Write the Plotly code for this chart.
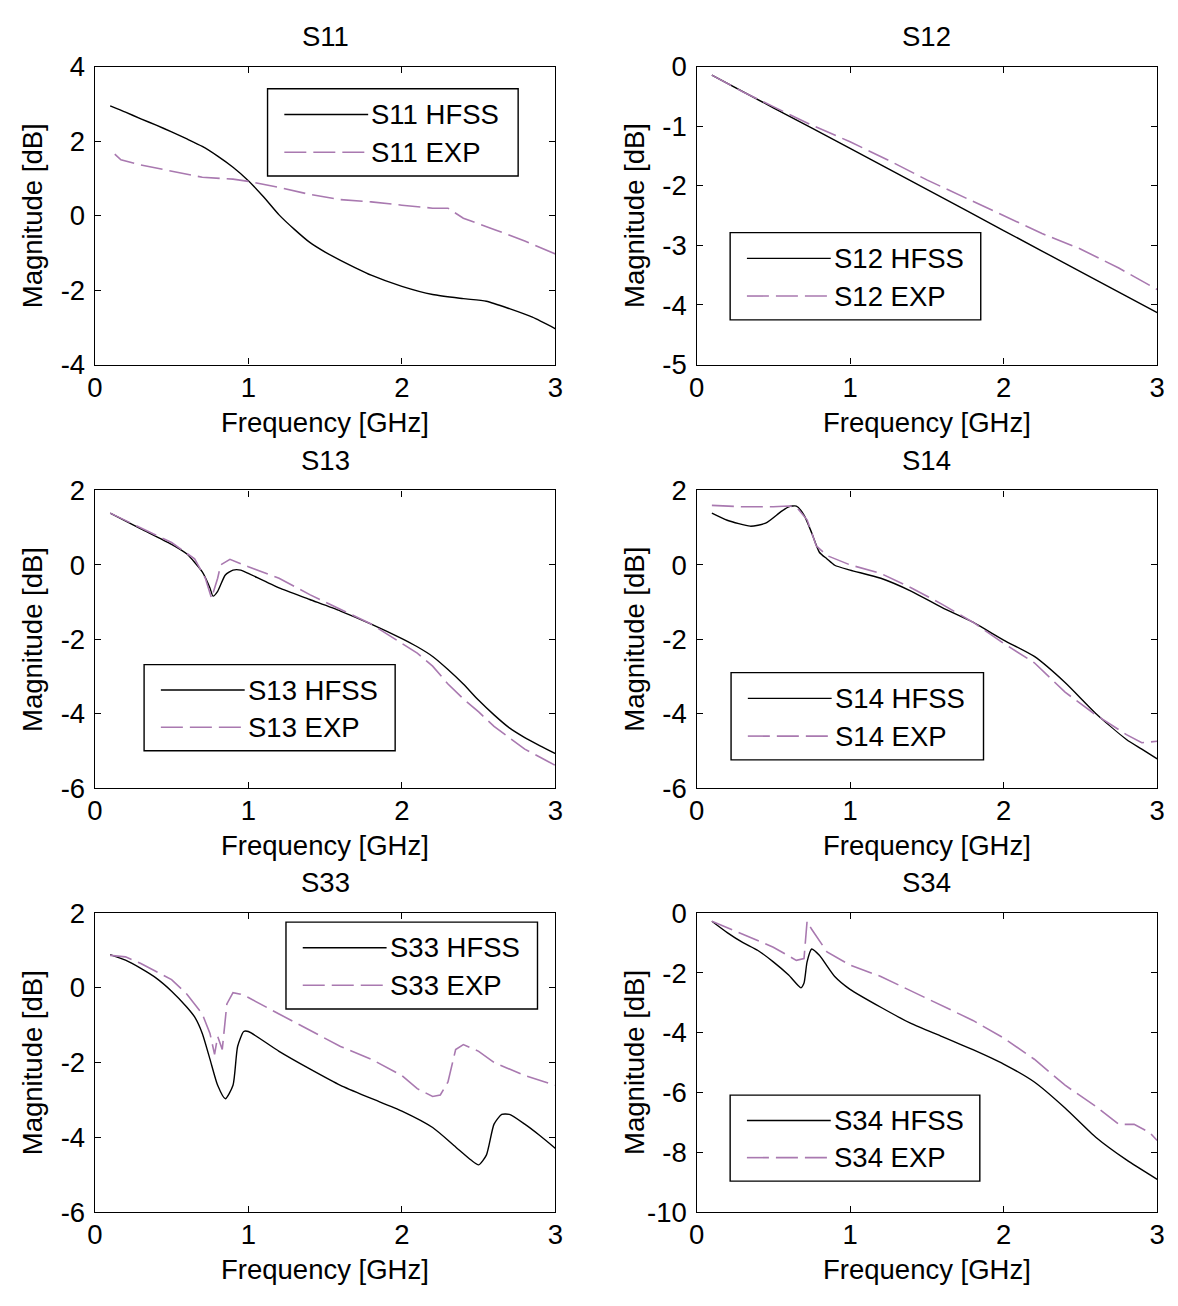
import plotly.graph_objects as go

# ---------------------------------------------------------------------------
# Measured / simulated S-parameter magnitudes (dB) versus frequency (GHz)
# ---------------------------------------------------------------------------
s11_hfss_f = [0.1, 0.2, 0.3, 0.4, 0.5, 0.6, 0.7, 0.8, 0.9, 1.0, 1.1, 1.2, 1.3,
              1.4, 1.5, 1.6, 1.8, 2.0, 2.2, 2.4, 2.55, 2.7, 2.85, 3.0]
s11_hfss_db = [2.95, 2.78, 2.6, 2.43, 2.25, 2.06, 1.86, 1.6, 1.3, 0.94, 0.5, 0.02,
               -0.37, -0.72, -0.98, -1.2, -1.6, -1.9, -2.12, -2.23, -2.3, -2.5,
               -2.73, -3.04]
s11_exp_f = [0.13, 0.17, 0.3, 0.5, 0.7, 0.9, 1.0, 1.2, 1.4, 1.6, 1.8, 2.0, 2.2,
             2.3, 2.4, 2.6, 2.8, 3.0]
s11_exp_db = [1.65, 1.5, 1.36, 1.2, 1.03, 0.98, 0.92, 0.76, 0.57, 0.43, 0.37,
              0.28, 0.2, 0.2, -0.07, -0.37, -0.68, -1.03]

s12_hfss_f = [0.1, 0.5, 1.0, 1.5, 2.0, 2.5, 3.0]
s12_hfss_db = [-0.14, -0.69, -1.37, -2.06, -2.75, -3.44, -4.13]
s12_exp_f = [0.1, 0.3, 0.5, 0.75, 1.0, 1.25, 1.5, 1.75, 2.0, 2.25, 2.5, 2.75, 3.0]
s12_exp_db = [-0.14, -0.42, -0.67, -0.98, -1.26, -1.57, -1.9, -2.2, -2.49, -2.8,
              -3.06, -3.38, -3.74]

s13_hfss_f = [0.1, 0.3, 0.5, 0.6, 0.7, 0.75, 0.77, 0.8, 0.85, 0.9, 0.95, 1.0, 1.2,
              1.4, 1.6, 1.8, 2.0, 2.1, 2.2, 2.3, 2.4, 2.5, 2.6, 2.7, 2.8, 2.9, 3.0]
s13_hfss_db = [1.39, 0.97, 0.55, 0.29, -0.19, -0.62, -0.84, -0.71, -0.27, -0.14,
               -0.14, -0.23, -0.62, -0.93, -1.24, -1.59, -1.98, -2.2, -2.46, -2.81,
               -3.2, -3.64, -4.03, -4.38, -4.64, -4.86, -5.07]
s13_exp_f = [0.1, 0.5, 0.65, 0.72, 0.76, 0.8, 0.82, 0.88, 1.0, 1.2, 1.4, 1.6, 1.8,
             2.0, 2.1, 2.2, 2.3, 2.4, 2.5, 2.6, 2.7, 2.8, 2.9, 3.0]
s13_exp_db = [1.39, 0.6, 0.16, -0.36, -0.89, -0.36, 0.0, 0.15, -0.05, -0.36, -0.8,
              -1.19, -1.59, -2.11, -2.37, -2.72, -3.2, -3.6, -3.95, -4.34, -4.64,
              -4.95, -5.17, -5.39]

s14_hfss_f = [0.1, 0.2, 0.35, 0.45, 0.55, 0.6, 0.65, 0.7, 0.75, 0.8, 0.85, 0.9,
              1.0, 1.2, 1.4, 1.6, 1.8, 2.0, 2.2, 2.4, 2.6, 2.8, 2.9, 3.0]
s14_hfss_db = [1.39, 1.2, 1.04, 1.12, 1.43, 1.56, 1.58, 1.34, 0.86, 0.34, 0.16,
               -0.01, -0.14, -0.36, -0.71, -1.15, -1.54, -2.02, -2.46, -3.16,
               -3.99, -4.69, -4.95, -5.21]
s14_exp_f = [0.1, 0.3, 0.5, 0.6, 0.65, 0.72, 0.78, 0.85, 1.0, 1.2, 1.4, 1.6, 1.8,
             2.0, 2.2, 2.4, 2.6, 2.8, 2.9, 3.0]
s14_exp_db = [1.6, 1.56, 1.56, 1.58, 1.56, 1.21, 0.51, 0.25, 0.0, -0.23, -0.62,
              -1.06, -1.54, -2.11, -2.63, -3.42, -4.03, -4.56, -4.78, -4.74]

s33_hfss_f = [0.1, 0.2, 0.3, 0.4, 0.5, 0.6, 0.65, 0.7, 0.75, 0.8, 0.85, 0.9, 0.93,
              0.97, 1.0, 1.2, 1.4, 1.6, 1.8, 2.0, 2.2, 2.35, 2.45, 2.5, 2.55, 2.6,
              2.65, 2.7, 2.8, 2.9, 3.0]
s33_hfss_db = [0.89, 0.74, 0.52, 0.26, -0.09, -0.52, -0.78, -1.22, -1.91, -2.61,
               -2.97, -2.61, -1.57, -1.17, -1.17, -1.7, -2.17, -2.61, -2.96, -3.3,
               -3.74, -4.26, -4.61, -4.74, -4.48, -3.65, -3.39, -3.39, -3.65, -3.96,
               -4.3]
s33_exp_f = [0.1, 0.2, 0.3, 0.4, 0.5, 0.6, 0.7, 0.75, 0.78, 0.8, 0.83, 0.86, 0.9,
             0.95, 1.0, 1.2, 1.4, 1.6, 1.8, 2.0, 2.1, 2.2, 2.25, 2.3, 2.35, 2.4,
             2.5, 2.6, 2.8, 3.0]
s33_exp_db = [0.87, 0.83, 0.65, 0.43, 0.22, -0.17, -0.7, -1.22, -1.78, -1.3, -1.65,
              -0.43, -0.13, -0.17, -0.26, -0.7, -1.13, -1.57, -1.91, -2.35, -2.7,
              -2.91, -2.87, -2.52, -1.65, -1.52, -1.7, -2.0, -2.35, -2.61]

s34_hfss_f = [0.1, 0.2, 0.3, 0.4, 0.5, 0.6, 0.68, 0.7, 0.72, 0.75, 0.8, 0.9, 1.0,
              1.2, 1.4, 1.6, 1.8, 2.0, 2.2, 2.4, 2.6, 2.8, 3.0]
s34_hfss_db = [-0.27, -0.65, -0.98, -1.25, -1.63, -2.07, -2.5, -2.34, -1.63, -1.2,
               -1.41, -2.12, -2.55, -3.15, -3.7, -4.13, -4.57, -5.05, -5.65, -6.52,
               -7.5, -8.26, -8.91]
s34_exp_f = [0.1, 0.3, 0.5, 0.65, 0.7, 0.72, 0.75, 0.85, 1.0, 1.2, 1.4, 1.6, 1.8,
             2.0, 2.2, 2.4, 2.6, 2.75, 2.85, 2.95, 3.0]
s34_exp_db = [-0.27, -0.7, -1.14, -1.58, -1.52, -0.27, -0.54, -1.3, -1.74, -2.12,
              -2.61, -3.1, -3.59, -4.18, -4.89, -5.76, -6.47, -7.07, -7.07, -7.34,
              -7.61]

panel_names = ["S11", "S12", "S13", "S14", "S33", "S34"]
y_ranges = [(-4, 4), (-5, 0), (-6, 2), (-6, 2), (-6, 2), (-10, 0)]
y_tick_values = [
    [-4, -2, 0, 2, 4],
    [-5, -4, -3, -2, -1, 0],
    [-6, -4, -2, 0, 2],
    [-6, -4, -2, 0, 2],
    [-6, -4, -2, 0, 2],
    [-10, -8, -6, -4, -2, 0],
]
x_range = (0, 3)
x_tick_values = [0, 1, 2, 3]
x_title = "Frequency [GHz]"
y_title = "Magnitude [dB]"

series = [
    (s11_hfss_f, s11_hfss_db, s11_exp_f, s11_exp_db),
    (s12_hfss_f, s12_hfss_db, s12_exp_f, s12_exp_db),
    (s13_hfss_f, s13_hfss_db, s13_exp_f, s13_exp_db),
    (s14_hfss_f, s14_hfss_db, s14_exp_f, s14_exp_db),
    (s33_hfss_f, s33_hfss_db, s33_exp_f, s33_exp_db),
    (s34_hfss_f, s34_hfss_db, s34_exp_f, s34_exp_db),
]

# ---------------------------------------------------------------------------
# Layout geometry (pixels)
# ---------------------------------------------------------------------------
W, H = 1178, 1306
col_px = [(88, 555), (698, 1165)]
row_px = [(53, 358), (487, 792), (920, 1226)]

# legend box per panel: (left, right, top, bottom) as fractions of the axes,
# measured from the left / top edge
legend_boxes = [
    (0.375, 0.919, 0.074, 0.367),
    (0.073, 0.617, 0.557, 0.850),
    (0.107, 0.652, 0.585, 0.874),
    (0.075, 0.623, 0.612, 0.905),
    (0.415, 0.961, 0.030, 0.321),
    (0.073, 0.615, 0.609, 0.897),
]

FONT = "Liberation Sans, Arial, sans-serif"
FS = 27.5
BLACK = "#000000"
EXP_COLOR = "#a979b0"
EXP_DASH = "22px,7px"


def tick_text(values):
    # plain ASCII hyphen for negative numbers
    return [str(v) for v in values]


fig = go.Figure()
annotations = []
shapes = []

for i, name in enumerate(panel_names):
    r, c = divmod(i, 2)
    idx = "" if i == 0 else str(i + 1)
    xa, ya = "x" + idx, "y" + idx
    x0p, x1p = col_px[c]
    y0p, y1p = row_px[r]
    ax_w = x1p - x0p

    hf, hd, ef, ed = series[i]
    fig.add_trace(go.Scatter(x=hf, y=hd, mode="lines", name=f"{name} HFSS",
                             line=dict(color=BLACK, width=1.4, shape="spline",
                                       smoothing=0.6),
                             xaxis=xa, yaxis=ya, showlegend=False))
    fig.add_trace(go.Scatter(x=ef, y=ed, mode="lines", name=f"{name} EXP",
                             line=dict(color=EXP_COLOR, width=1.6, dash=EXP_DASH),
                             xaxis=xa, yaxis=ya, showlegend=False))

    common = dict(showline=True, linecolor=BLACK, linewidth=1.4, mirror="ticks",
                  ticks="inside", ticklen=6, tickwidth=1.2, tickcolor=BLACK,
                  showgrid=False, zeroline=False, fixedrange=True,
                  tickmode="array",
                  tickfont=dict(family=FONT, size=FS, color=BLACK))
    fig.update_layout({
        "xaxis" + idx: dict(domain=[x0p / W, x1p / W], range=list(x_range),
                            tickvals=x_tick_values,
                            ticktext=tick_text(x_tick_values),
                            anchor=ya, ticklabelstandoff=-2, **common),
        "yaxis" + idx: dict(domain=[1 - y1p / H, 1 - y0p / H],
                            range=list(y_ranges[i]),
                            tickvals=y_tick_values[i],
                            ticktext=tick_text(y_tick_values[i]),
                            anchor=xa, ticklabelstandoff=3, **common),
    })

    cx = (x0p + x1p) / 2
    cy = (y0p + y1p) / 2
    txt = dict(family=FONT, size=FS, color=BLACK)
    # panel title
    annotations.append(dict(text=name, x=cx / W, y=1 - (y0p - 31) / H,
                            xref="paper", yref="paper", showarrow=False,
                            xanchor="center", yanchor="middle", font=txt))
    # axis titles
    annotations.append(dict(text=x_title, x=cx / W, y=1 - (y1p + 59) / H,
                            xref="paper", yref="paper", showarrow=False,
                            xanchor="center", yanchor="middle", font=txt))
    annotations.append(dict(text=y_title, x=(x0p - 63) / W, y=1 - cy / H,
                            xref="paper", yref="paper", showarrow=False,
                            textangle=-90, xanchor="center", yanchor="middle",
                            font=txt))

    # legend box with line samples and labels
    bl, br, bt, bb = legend_boxes[i]
    xd, yd = xa + " domain", ya + " domain"
    shapes.append(dict(type="rect", xref=xd, yref=yd, x0=bl, x1=br,
                       y0=1 - bt, y1=1 - bb,
                       line=dict(color=BLACK, width=1.4), fillcolor="white",
                       layer="above"))
    box_h = bb - bt
    rows = [(f"{name} HFSS", dict(color=BLACK, width=1.4)),
            (f"{name} EXP", dict(color=EXP_COLOR, width=1.6, dash=EXP_DASH))]
    for k, (label, lstyle) in enumerate(rows):
        fy = bt + box_h * (0.295 if k == 0 else 0.727)
        sx0 = bl + 17 / ax_w
        sx1 = bl + 102 / ax_w
        shapes.append(dict(type="line", xref=xd, yref=yd, x0=sx0, x1=sx1,
                           y0=1 - fy, y1=1 - fy, line=lstyle, layer="above"))
        annotations.append(dict(text=label, x=bl + 103 / ax_w, y=1 - fy,
                                xref=xd, yref=yd, showarrow=False,
                                xanchor="left", yanchor="middle", font=txt))

fig.update_layout(width=W, height=H, margin=dict(l=0, r=0, t=0, b=0),
                  paper_bgcolor="white", plot_bgcolor="white",
                  showlegend=False, annotations=annotations, shapes=shapes)

fig.write_html("out.html", config={"displayModeBar": False})
